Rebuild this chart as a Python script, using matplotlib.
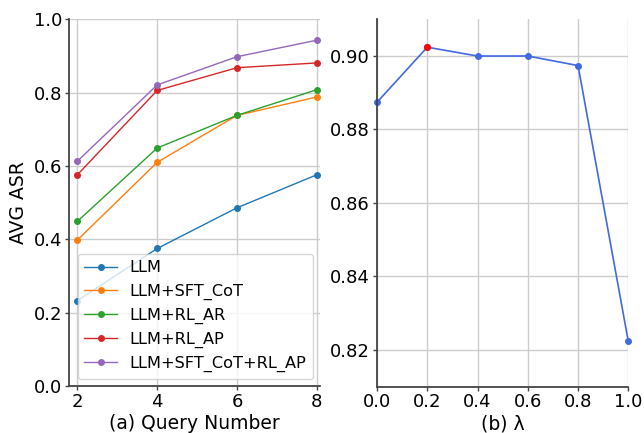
import matplotlib
matplotlib.use("Agg")
import matplotlib.pyplot as plt

query_numbers = [2, 4, 6, 8]
llm = [0.233, 0.375, 0.486, 0.576]
llm_sft_cot = [0.398, 0.610, 0.738, 0.788]
llm_rl_ar = [0.449, 0.649, 0.738, 0.808]
llm_rl_ap = [0.576, 0.806, 0.868, 0.881]
llm_sft_cot_rl_ap = [0.613, 0.821, 0.898, 0.943]
series_labels = ["LLM", "LLM+SFT_CoT", "LLM+RL_AR", "LLM+RL_AP", "LLM+SFT_CoT+RL_AP"]

lambdas = [0.0, 0.2, 0.4, 0.6, 0.8, 1.0]
lambda_asr = [0.8874, 0.9024, 0.900, 0.900, 0.8974, 0.8223]
best_idx = 1

fig = plt.figure(figsize=(6.44, 4.33), dpi=100)
ax1 = fig.add_axes([69/644, 1-386/433, (320-69)/644, (386-19.3)/433])
ax2 = fig.add_axes([377/644, 1-386.5/433, (628.3-377)/644, (386.5-19.3)/433])

colors = ["#1f77b4", "#ff7f0e", "#2ca02c", "#d62728", "#9467bd"]
for vals, lab, c in zip([llm, llm_sft_cot, llm_rl_ar, llm_rl_ap, llm_sft_cot_rl_ap], series_labels, colors):
    ax1.plot(query_numbers, vals, marker="o", markersize=4, linewidth=1, color=c, label=lab)

ax1.set_xlim(1.79, 8.08)
ax1.set_ylim(0, 1.0)
ax1.set_xticks([2, 4, 6, 8])
ax1.set_yticks([0.0, 0.2, 0.4, 0.6, 0.8, 1.0])
ax1.set_xlabel("(a) Query Number", fontsize=13.5, labelpad=2)
ax1.set_ylabel("AVG ASR", fontsize=13.5, labelpad=4)
ax1.legend(loc="lower right", fontsize=11.6, handlelength=2.0, borderaxespad=0.45)

ax2.plot(lambdas, lambda_asr, marker="o", markersize=4, linewidth=1.2, color="#4169E1")
ax2.plot([lambdas[best_idx]], [lambda_asr[best_idx]], marker="o", markersize=4, color="red", linestyle="none", zorder=5)
ax2.set_xlim(0, 1.0)
ax2.set_ylim(0.81, 0.91)
ax2.set_xticks(lambdas)
ax2.set_yticks([0.82, 0.84, 0.86, 0.88, 0.90])
ax2.set_yticklabels(["0.82", "0.84", "0.86", "0.88", "0.90"])
ax2.set_xlabel("(b) λ", fontsize=13.5, labelpad=2)

for ax in (ax1, ax2):
    ax.grid(True, color="#cccccc", linewidth=1)
    ax.set_axisbelow(True)
    ax.spines["top"].set_visible(False)
    ax.spines["right"].set_visible(False)
    ax.spines["left"].set_color("#444444")
    ax.spines["bottom"].set_color("#444444")
    ax.spines["left"].set_linewidth(1.3)
    ax.spines["bottom"].set_linewidth(1.3)
    ax.tick_params(labelsize=13, length=3, width=1, color="#444444", pad=2)
    for a in ax.lines:
        a.set_clip_on(False)

fig.savefig("out.png", dpi=100)
